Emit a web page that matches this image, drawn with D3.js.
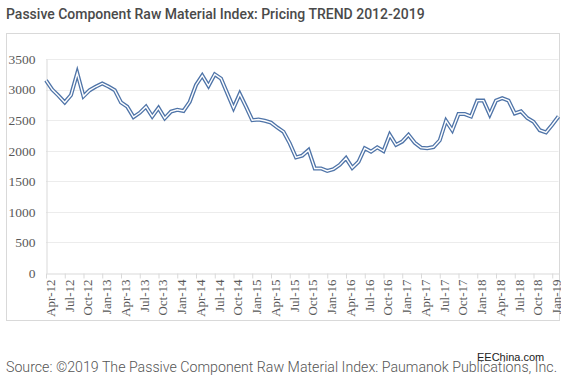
<!DOCTYPE html>
<html>
<head>
<meta charset="utf-8">
<script src="https://cdn.jsdelivr.net/npm/d3@7"></script>
<style>
  body { margin: 0; background: #fff; }
</style>
</head>
<body>
<div id="chart"></div>
<script>
const width = 561
const height = 377

const months = [
  "Apr-12","May-12","Jun-12","Jul-12","Aug-12","Sep-12","Oct-12","Nov-12","Dec-12",
  "Jan-13","Feb-13","Mar-13","Apr-13","May-13","Jun-13","Jul-13","Aug-13","Sep-13","Oct-13","Nov-13","Dec-13",
  "Jan-14","Feb-14","Mar-14","Apr-14","May-14","Jun-14","Jul-14","Aug-14","Sep-14","Oct-14","Nov-14","Dec-14",
  "Jan-15","Feb-15","Mar-15","Apr-15","May-15","Jun-15","Jul-15","Aug-15","Sep-15","Oct-15","Nov-15","Dec-15",
  "Jan-16","Feb-16","Mar-16","Apr-16","May-16","Jun-16","Jul-16","Aug-16","Sep-16","Oct-16","Nov-16","Dec-16",
  "Jan-17","Feb-17","Mar-17","Apr-17","May-17","Jun-17","Jul-17","Aug-17","Sep-17","Oct-17","Nov-17","Dec-17",
  "Jan-18","Feb-18","Mar-18","Apr-18","May-18","Jun-18","Jul-18","Aug-18","Sep-18","Oct-18","Nov-18","Dec-18",
  "Jan-19","Feb-19"
]

const indexValues = [
  3150, 3000, 2900, 2790, 2910, 3270, 2890, 2990, 3050,
  3100, 3050, 2990, 2790, 2720, 2550, 2620, 2720, 2560, 2700, 2530, 2640,
  2670, 2650, 2800, 3075, 3230, 3060, 3250, 3180, 2940, 2700, 2930, 2720,
  2500, 2510, 2490, 2460, 2380, 2310, 2120, 1890, 1920, 2010, 1710, 1710,
  1670, 1700, 1770, 1880, 1720, 1820, 2040, 1985, 2055, 1995, 2260, 2095,
  2150, 2260, 2130, 2050, 2040, 2060, 2170, 2490, 2335, 2600, 2600, 2560,
  2820, 2820, 2590, 2820, 2860, 2820, 2610, 2645, 2535, 2475, 2335, 2300,
  2425, 2560
]

// labelled every third month
const tickLabels = months.filter((m, i) => i % 3 === 0)
const yTicks = [0, 500, 1000, 1500, 2000, 2500, 3000, 3500]

const data = months.map((m, i) => ({ month: m, value: indexValues[i] }))

const plot = { left: 46, right: 558.5, top: 59, bottom: 273 }

const svg = d3.select("#chart").append("svg")
  .attr("width", width)
  .attr("height", height)

svg.append("text")
  .attr("x", 6)
  .attr("y", 19)
  .attr("font-family", "Roboto, Arial")
  .attr("font-weight", 500)
  .attr("font-size", "14px")
  .attr("fill", "#4a4a4a")
  .text("Passive Component Raw Material Index: Pricing TREND 2012-2019")

// chart frame
svg.append("rect")
  .attr("x", 6.5)
  .attr("y", 33.5)
  .attr("width", 553)
  .attr("height", 287)
  .attr("fill", "none")
  .attr("stroke", "#d9d9d9")

const x = d3.scalePoint().domain(months).range([plot.left, plot.right])
const y = d3.scaleLinear().domain([0, 3500]).range([plot.bottom, plot.top])

// gridlines
svg.append("g")
  .selectAll("line")
  .data(yTicks.slice(1))
  .join("line")
  .attr("x1", plot.left)
  .attr("x2", plot.right)
  .attr("y1", d => Math.round(y(d)) + 0.5)
  .attr("y2", d => Math.round(y(d)) + 0.5)
  .attr("stroke", "#ececec")

let yAxis = d3.axisLeft(y).tickValues(yTicks).tickFormat(d3.format("d")).tickSize(0).tickPadding(11)
let yAxisG = svg.append("g")
  .attr("transform", `translate(${plot.left + 0.5},0)`)
  .call(yAxis)
yAxisG.select(".domain").attr("stroke", "#d9d9d9")
yAxisG.selectAll("text")
  .attr("font-family", "Liberation Serif, serif")
  .attr("font-size", "13.5px")
  .attr("fill", "#595959")

let xAxis = d3.axisBottom(x).tickValues(tickLabels).tickSize(5).tickSizeOuter(0).tickPadding(4)
let xAxisG = svg.append("g")
  .attr("transform", `translate(0,${plot.bottom + 0.5})`)
  .call(xAxis)
xAxisG.select(".domain").attr("stroke", "#d9d9d9")
xAxisG.selectAll(".tick line").attr("stroke", "#d9d9d9")
xAxisG.selectAll("text")
  .attr("font-family", "Liberation Serif, serif")
  .attr("font-size", "13px")
  .attr("fill", "#595959")
  .attr("text-anchor", "end")
  .attr("transform", "rotate(-90)")
  .attr("x", -6)
  .attr("y", 0)
  .attr("dy", "0.65em")

const line = d3.line()
  .x(d => x(d.month))
  .y(d => y(d.value))

// double line: blue outline with a white core
svg.append("path")
  .datum(data)
  .attr("d", line)
  .attr("fill", "none")
  .attr("stroke", "#4f74a8")
  .attr("stroke-width", 4)
  .attr("stroke-linejoin", "miter")

svg.append("path")
  .datum(data)
  .attr("d", line)
  .attr("fill", "none")
  .attr("stroke", "#ffffff")
  .attr("stroke-width", 1.4)

svg.append("text")
  .attr("x", 6)
  .attr("y", 372)
  .attr("font-family", "Roboto, Arial")
  .attr("font-weight", 300)
  .attr("font-size", "14.2px")
  .attr("fill", "#555")
  .text("Source: \u00a92019 The Passive Component Raw Material Index: Paumanok Publications, Inc.")

svg.append("text")
  .attr("x", 477)
  .attr("y", 361)
  .attr("font-family", "Arial, Liberation Sans")
  .attr("font-size", "11px")
  .attr("fill", "#222")
  .text("EEChina.com")
</script>
</body>
</html>
